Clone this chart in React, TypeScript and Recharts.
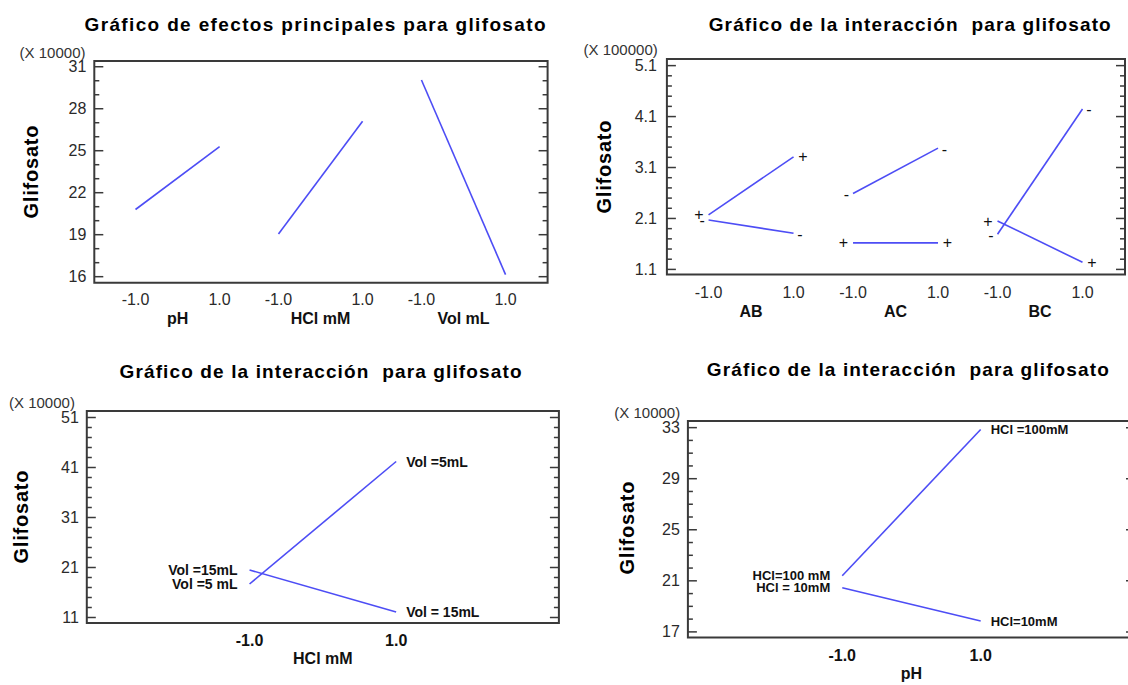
import React from 'react';
import { LineChart, Line, XAxis, YAxis, ReferenceArea } from 'recharts';

// Niveles codificados de los factores
const levels = [-1, 1];
const levelText = ['-1.0', '1.0'];

// Efectos principales (X 10000)
const factorNames = ['pH', 'HCl mM', 'Vol mL'];
const phMain = [20.8, 25.3];
const hclMain = [19.05, 27.1];
const volMain = [30.05, 16.15];

// Interacciones de dos factores (X 100000)
const pairNames = ['AB', 'AC', 'BC'];
const abPlus = [2.17, 3.31];
const abMinus = [2.07, 1.81];
const acPlus = [1.62, 1.62];
const acMinus = [2.59, 3.48];
const bcPlus = [2.05, 1.24];
const bcMinus = [1.79, 4.25];

// Interacción HCl x Vol (X 10000)
const vol5 = [17.7, 42.2];
const vol15 = [20.5, 12.1];

// Interacción pH x HCl (X 10000)
const hcl100 = [21.4, 32.85];
const hcl10 = [20.45, 17.85];

// Marcas mayores de los ejes Y
const mainMajor = [16, 19, 22, 25, 28, 31];
const pairMajor = [1.1, 2.1, 3.1, 4.1, 5.1];
const volMajor = [11, 21, 31, 41, 51];
const phMajor = [17, 21, 25, 29, 33];

const FONT = "'Liberation Sans', Arial, sans-serif";
const LINE = '#4d4df5';
const FRAME = '#3a3a3a';
const GAP = 1.7; // separación entre factores en el eje X compartido

type TickSpec = { pos: number; text: string; name?: boolean };

function steps(from: number, to: number, step: number) {
  const out: number[] = [];
  for (let v = from; v <= to + 1e-9; v += step) out.push(Math.round(v * 100) / 100);
  return out;
}

function segmentRows(values: number[], slot: number) {
  return values.map((y, i) => ({ x: slot * GAP + (levels[i] + 1) / 2, y }));
}

function levelRows(values: number[]) {
  return values.map((y, i) => ({ x: levels[i], y }));
}

function segmentTicks(names: string[]): TickSpec[] {
  return names.flatMap((name, slot) => [
    { pos: slot * GAP, text: levelText[0] },
    { pos: slot * GAP + 0.5, text: name, name: true },
    { pos: slot * GAP + 1, text: levelText[1] },
  ]);
}

function singleTicks(name: string): TickSpec[] {
  return [
    { pos: levels[0], text: levelText[0] },
    { pos: 0, text: name, name: true },
    { pos: levels[1], text: levelText[1] },
  ];
}

// Signos "+" / "-" junto a los extremos de cada línea
const signLabels = (left: string, right: string) => (p: any) => {
  const first = p.index === 0;
  const sign = first ? left : right;
  const off = sign === '+' ? 9.5 : 6.5;
  return (
    <text x={p.x + (first ? -off : off)} y={p.y + (sign === '-' ? 1 : 0)} textAnchor="middle" dominantBaseline="central"
      fontSize={16} fontFamily={FONT} fill="#111">{sign}</text>
  );
};

// Rótulos de texto en los extremos
const endLabels = (left: string, right: string, size: number) => (p: any) => {
  const first = p.index === 0;
  return (
    <text x={p.x + (first ? -12 : 10)} y={p.y} textAnchor={first ? 'end' : 'start'} dominantBaseline="central"
      fontSize={size} fontWeight="bold" fontFamily={FONT} fill="#111">{first ? left : right}</text>
  );
};

interface PanelProps {
  frame: { left: number; top: number; width: number; height: number };
  box: { x0: number; y0: number; x1: number; y1: number };
  xDomain: [number, number];
  yDomain: [number, number];
  xTicks: TickSpec[];
  boldNumbers: boolean;
  numY: number;
  nameY: number;
  yTicks: number[];
  yMajor: number[];
  yDigits: number;
  yGap: number;
  children: React.ReactNode;
}

function Panel(p: PanelProps) {
  const { frame, box } = p;
  const margin = { top: box.y0 - frame.top, left: 0, right: frame.left + frame.width - box.x1 - 1, bottom: 0 };
  const isMajor = (v: number) => p.yMajor.some((m) => Math.abs(m - v) < 1e-6);

  const renderX = (t: any) => {
    const spec = p.xTicks.find((s) => Math.abs(s.pos - t.payload.value) < 1e-6);
    if (!spec) return <g />;
    const bold = spec.name || p.boldNumbers;
    return (
      <text x={t.x} y={t.y + (spec.name ? p.nameY : p.numY)} textAnchor="middle" dominantBaseline="central"
        fontSize={16} fontFamily={FONT} fontWeight={bold ? 'bold' : 'normal'} fill={bold ? '#111' : '#2a2a2a'}>
        {spec.text}
      </text>
    );
  };

  const renderLeft = (t: any) => {
    const major = isMajor(t.payload.value);
    return (
      <g>
        <line x1={t.x} x2={t.x + (major ? 9 : 5)} y1={t.y} y2={t.y} stroke={FRAME} strokeWidth={1.5} />
        {major && (
          <text x={t.x - p.yGap} y={t.y} textAnchor="end" dominantBaseline="central" fontSize={16}
            fontFamily={FONT} fill="#2a2a2a">{t.payload.value.toFixed(p.yDigits)}</text>
        )}
      </g>
    );
  };

  const renderRight = (t: any) => {
    const major = isMajor(t.payload.value);
    return <line x1={t.x} x2={t.x - (major ? 9 : 5)} y1={t.y} y2={t.y} stroke={FRAME} strokeWidth={1.5} />;
  };

  return (
    <div style={{ position: 'absolute', left: frame.left, top: frame.top }}>
      <LineChart width={frame.width} height={frame.height} margin={margin}>
        <XAxis type="number" dataKey="x" domain={p.xDomain} allowDataOverflow ticks={p.xTicks.map((s) => s.pos)}
          interval={0} height={frame.top + frame.height - box.y1} axisLine={false} tickLine={false}
          tickSize={0} tickMargin={0} tick={renderX} />
        <YAxis yAxisId="left" type="number" domain={p.yDomain} allowDataOverflow ticks={p.yTicks} interval={0}
          width={box.x0 - frame.left} axisLine={false} tickLine={false} tickSize={0} tickMargin={0} tick={renderLeft} />
        <YAxis yAxisId="right" orientation="right" type="number" domain={p.yDomain} allowDataOverflow ticks={p.yTicks}
          interval={0} width={1} axisLine={false} tickLine={false} tickSize={0} tickMargin={0} tick={renderRight} />
        <ReferenceArea yAxisId="left" x1={p.xDomain[0]} x2={p.xDomain[1]} y1={p.yDomain[0]} y2={p.yDomain[1]}
          fill="none" stroke={FRAME} strokeWidth={2} ifOverflow="visible" />
        {p.children}
      </LineChart>
    </div>
  );
}

const lineProps = {
  type: 'linear' as const,
  dataKey: 'y',
  yAxisId: 'left',
  stroke: LINE,
  strokeWidth: 1.6,
  dot: false,
  isAnimationActive: false,
};

const titles = [
  { text: 'Gráfico de efectos principales para glifosato', x: 315, y: 24, len: 461 },
  { text: 'Gráfico de la interacción  para glifosato', x: 909.7, y: 24.3, len: 402 },
  { text: 'Gráfico de la interacción  para glifosato', x: 320.5, y: 371.7, len: 402 },
  { text: 'Gráfico de la interacción  para glifosato', x: 907.8, y: 369.3, len: 402 },
];
const scaleNotes = [
  { text: '(X 10000)', x: 19.6, y: 52.5 },
  { text: '(X 100000)', x: 583.5, y: 49.5 },
  { text: '(X 10000)', x: 9, y: 402 },
  { text: '(X 10000)', x: 614.3, y: 412 },
];
const yTitles = [
  { x: 31.2, y: 172 },
  { x: 604.3, y: 167 },
  { x: 21.4, y: 517 },
  { x: 627, y: 528 },
];

export default function App() {
  return (
    <div style={{ position: 'absolute', left: 0, top: 0, width: 1128, height: 685, overflow: 'hidden', background: '#fff', fontFamily: FONT }}>
      <Panel frame={{ left: 0, top: 40, width: 560, height: 300 }} box={{ x0: 94.3, y0: 61, x1: 547.6, y1: 282.7 }}
        xDomain={[-0.49, 4.9]} yDomain={[15.57, 31.41]} xTicks={segmentTicks(factorNames)} boldNumbers={false}
        numY={16.3} nameY={35.6} yTicks={steps(16, 31, 1)} yMajor={mainMajor} yDigits={0} yGap={8}>
        <Line {...lineProps} data={segmentRows(phMain, 0)} />
        <Line {...lineProps} data={segmentRows(hclMain, 1)} />
        <Line {...lineProps} data={segmentRows(volMain, 2)} />
      </Panel>

      <Panel frame={{ left: 560, top: 40, width: 568, height: 300 }} box={{ x0: 666.9, y0: 59, x1: 1125, y1: 274.5 }}
        xDomain={[-0.49, 4.9]} yDomain={[1.0, 5.23]} xTicks={segmentTicks(pairNames)} boldNumbers={false}
        numY={18} nameY={37} yTicks={steps(1.1, 5.1, 0.2)} yMajor={pairMajor} yDigits={1} yGap={10}>
        <Line {...lineProps} data={segmentRows(abPlus, 0)} label={signLabels('+', '+')} />
        <Line {...lineProps} data={segmentRows(abMinus, 0)} label={signLabels('-', '-')} />
        <Line {...lineProps} data={segmentRows(acMinus, 1)} label={signLabels('-', '-')} />
        <Line {...lineProps} data={segmentRows(acPlus, 1)} label={signLabels('+', '+')} />
        <Line {...lineProps} data={segmentRows(bcMinus, 2)} label={signLabels('-', '-')} />
        <Line {...lineProps} data={segmentRows(bcPlus, 2)} label={signLabels('+', '+')} />
      </Panel>

      <Panel frame={{ left: 0, top: 390, width: 565, height: 295 }} box={{ x0: 86.8, y0: 411, x1: 558.9, y1: 623 }}
        xDomain={[-3.22, 3.22]} yDomain={[9.9, 52.3]} xTicks={singleTicks('HCl mM')} boldNumbers
        numY={17.7} nameY={35.3} yTicks={steps(11, 51, 2)} yMajor={volMajor} yDigits={0} yGap={8}>
        <Line {...lineProps} data={levelRows(vol5)} label={endLabels('Vol =5 mL', 'Vol =5mL', 14)} />
        <Line {...lineProps} data={levelRows(vol15)} label={endLabels('Vol =15mL', 'Vol = 15mL', 14)} />
      </Panel>

      <Panel frame={{ left: 560, top: 390, width: 600, height: 295 }} box={{ x0: 687.9, y0: 421, x1: 1135, y1: 637.5 }}
        xDomain={[-3.23, 3.23]} yDomain={[16.56, 33.52]} xTicks={singleTicks('pH')} boldNumbers
        numY={17.5} nameY={35.8} yTicks={steps(17, 33, 1)} yMajor={phMajor} yDigits={0} yGap={8}>
        <Line {...lineProps} data={levelRows(hcl100)} label={endLabels('HCl=100 mM', 'HCl =100mM', 13)} />
        <Line {...lineProps} data={levelRows(hcl10)} label={endLabels('HCl = 10mM', 'HCl=10mM', 13)} />
      </Panel>

      <svg width={1128} height={685} style={{ position: 'absolute', left: 0, top: 0, pointerEvents: 'none' }}>
        {titles.map((t, i) => (
          <text key={`t${i}`} x={t.x} y={t.y} textAnchor="middle" dominantBaseline="central" fontSize={19}
            fontWeight="bold" fontFamily={FONT} fill="#000" textLength={t.len} lengthAdjust="spacing"
            style={{ whiteSpace: 'pre' }}>{t.text}</text>
        ))}
        {scaleNotes.map((n, i) => (
          <text key={`n${i}`} x={n.x} y={n.y} dominantBaseline="central" fontSize={15} fontFamily={FONT}
            fill="#333">{n.text}</text>
        ))}
        {yTitles.map((g, i) => (
          <text key={`g${i}`} x={g.x} y={g.y} transform={`rotate(-90 ${g.x} ${g.y})`} textAnchor="middle"
            dominantBaseline="central" fontSize={20} fontWeight="bold" fontFamily={FONT} fill="#000"
            textLength={93} lengthAdjust="spacing">Glifosato</text>
        ))}
      </svg>
    </div>
  );
}
